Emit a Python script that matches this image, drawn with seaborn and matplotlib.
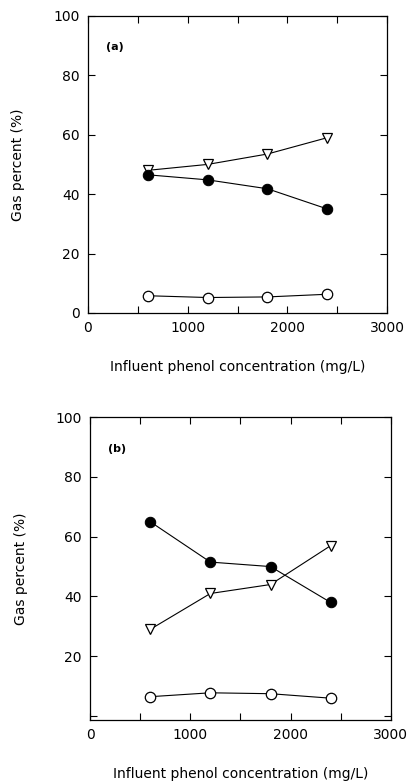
import matplotlib
matplotlib.use("Agg")
import matplotlib.pyplot as plt
import seaborn as sns
import pandas as pd
from matplotlib.ticker import MultipleLocator

sns.set_style("ticks")
plt.rcParams['font.family'] = ['DejaVu Sans']
plt.rcParams.update({
    "text.color": "black", "axes.labelcolor": "black",
    "xtick.color": "black", "ytick.color": "black", "axes.edgecolor": "black",
})

conc = [600, 1200, 1800, 2400]
# panel (a)
a_tri = [48, 50, 53.5, 59]
a_filled = [46.5, 44.8, 41.8, 35]
a_open = [5.8, 5.2, 5.4, 6.3]
# panel (b)
b_filled = [65, 51.5, 50, 38]
b_tri = [29, 41, 44, 57]
b_open = [6.5, 7.8, 7.5, 6.0]

xlabel = "Influent phenol concentration (mg/L)"
ylabel = "Gas percent (%)"

fig = plt.figure(figsize=(4.11, 7.84), dpi=100)
ax1 = fig.add_axes([0.214, 0.6008, 0.728, 0.379])
ax2 = fig.add_axes([0.219, 0.0816, 0.732, 0.3865])

def draw(ax, tri, filled, opn, label, ylim, yticks):
    df = pd.DataFrame({"x": conc, "tri": tri, "filled": filled, "open": opn})
    sns.lineplot(data=df, x="x", y="tri", ax=ax, color="black", lw=0.8,
                 marker="v", markersize=7.5, markerfacecolor="white",
                 markeredgecolor="black", markeredgewidth=0.9)
    sns.lineplot(data=df, x="x", y="filled", ax=ax, color="black", lw=0.8,
                 marker="o", markersize=7.5, markerfacecolor="black",
                 markeredgecolor="black")
    sns.lineplot(data=df, x="x", y="open", ax=ax, color="black", lw=0.8,
                 marker="o", markersize=7.5, markerfacecolor="white",
                 markeredgecolor="black", markeredgewidth=0.9)
    ax.set_xlim(0, 3000)
    ax.set_ylim(*ylim)
    ax.set_xticks([0, 1000, 2000, 3000])
    ax.xaxis.set_minor_locator(MultipleLocator(500))
    ax.set_yticks(yticks)
    ax.yaxis.set_minor_locator(MultipleLocator(20))
    ax.tick_params(which="both", direction="in", top=True, right=True,
                   labelsize=10, width=0.8, pad=6)
    ax.tick_params(which="major", length=5)
    ax.tick_params(which="minor", length=5)
    for s in ax.spines.values():
        s.set_linewidth(0.9)
    ax.set_xlabel(xlabel, fontsize=10, labelpad=18)
    ax.set_ylabel(ylabel, fontsize=10, labelpad=20)
    ax.text(0.06, 0.895, label, transform=ax.transAxes, fontsize=8,
            fontweight="bold", va="center", ha="left")

draw(ax1, a_tri, a_filled, a_open, "(a)", (0, 100), [0, 20, 40, 60, 80, 100])
draw(ax2, b_tri, b_filled, b_open, "(b)", (-1.3, 100), [20, 40, 60, 80, 100])

fig.savefig("out.png", dpi=100)
